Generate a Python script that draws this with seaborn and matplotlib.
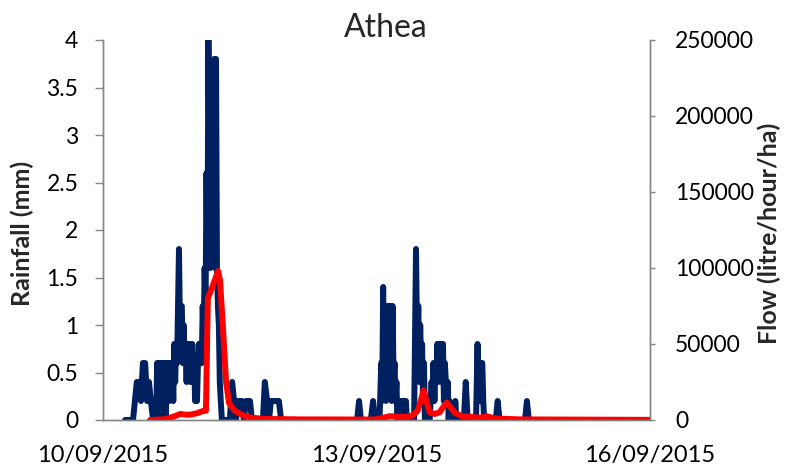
import numpy as np
import pandas as pd
import matplotlib
matplotlib.use("Agg")
import matplotlib.pyplot as plt
import seaborn as sns

# ---- data (hours since 10/09/2015 00:00) ----
rain_hours = [5.8, 7.9, 8.4, 8.9, 9.5, 10.0, 10.5, 11.1, 11.6, 12.1, 12.6, 13.2, 14.0,
              14.25, 14.5, 14.75, 15.0, 15.25, 15.5, 15.75, 16.0, 16.25, 16.5, 16.75, 17.0,
              17.25, 17.5, 17.75, 18.0, 18.25, 18.5, 18.75, 19.0, 19.25, 19.5, 19.75, 20.0,
              20.25, 20.5, 20.75, 21.0, 21.25, 21.5, 21.75, 22.0, 22.25, 22.5, 22.75, 23.0,
              23.25, 23.5, 23.75, 24.0, 24.25, 24.5, 24.75, 25.0, 25.25, 25.5, 25.75, 26.0,
              26.25, 26.5, 26.75, 27.0, 27.25, 27.5, 27.75, 28.0, 28.25, 28.5, 28.75, 29.0,
              29.25, 29.5, 29.75, 30.0, 30.25, 30.5, 30.75, 31.0, 31.3,
              33.4, 34.0, 34.5, 35.0, 35.5, 36.6, 37.1, 37.6, 38.7, 39.2, 42.1, 42.6, 43.2,
              43.7, 44.2, 46.3, 46.9,
              66.9, 67.4, 67.9, 70.5, 71.1, 71.6, 72.8, 73.25, 73.5, 73.75, 74.0, 74.25, 74.5,
              74.75, 75.0, 75.25, 75.5, 75.75, 76.0, 76.25, 76.5, 76.75, 77.0, 77.25, 77.5,
              77.75, 78.0, 78.25, 78.75, 79.0, 79.25, 79.75, 80.0, 81.9, 82.4, 82.75, 83.0,
              83.25, 83.5, 83.75, 84.0, 84.25, 84.5, 84.75, 85.0, 85.25, 86.0, 86.5, 86.75,
              87.0, 87.25, 87.5, 87.75, 88.0, 88.25, 88.5, 88.75, 89.0, 89.25, 89.5, 89.75,
              90.0, 90.25, 90.5, 90.75, 91.0, 91.25, 91.5, 92.5, 92.75, 93.0, 95.0, 95.5,
              96.0, 98.2, 98.6, 98.85, 99.1, 99.35, 99.6, 99.85, 100.1, 100.35, 103.4, 103.9,
              104.4, 111.1, 111.6, 112.1, 144.0]
rain_mm = [0, 0, 0.2, 0.4, 0.4, 0.2, 0.6, 0.6, 0.2, 0.4, 0.2, 0, 0,
           0.6, 0, 0.6, 0.2, 0.6, 0, 0.6, 0.2, 0.6, 0, 0.6, 0.4,
           0.6, 0.2, 0.6, 0.4, 0.6, 0.2, 0.8, 0.4, 0.8, 0.6, 1.2, 1.8,
           1.0, 1.2, 1.2, 0.6, 1.0, 0.6, 0.8, 0.4, 0.8, 0.6, 0.8, 0.4,
           0.6, 0.8, 0.4, 0.6, 0.2, 0.6, 0.2, 0.6, 0.8, 0.6, 0.8, 0.6,
           1.2, 0.8, 1.6, 1.2, 2.6, 1.6, 4.0, 2.6, 1.6, 3.2, 2.0, 2.6,
           3.8, 1.6, 3.8, 1.6, 1.2, 1.0, 0.4, 0.2, 0,
           0, 0.4, 0.2, 0, 0.2, 0.2, 0, 0.2, 0.2, 0, 0, 0.4, 0.2,
           0, 0.2, 0.2, 0,
           0, 0.2, 0, 0, 0.2, 0, 0, 0.6, 0.2, 1.4, 0.4, 1.0, 0.2,
           1.2, 0.4, 1.2, 0.6, 1.2, 0.2, 1.2, 0.4, 0.6, 0.2, 0.4, 0,
           0.2, 0, 0.2, 0.2, 0, 0.2, 0.2, 0, 0, 1.8, 0.6, 1.2,
           0.4, 1.0, 0.6, 0.8, 0.2, 0.6, 0, 0.2, 0, 0, 0.4, 0.2,
           0.6, 0.2, 0.6, 0.4, 0.8, 0.4, 0.8, 0.6, 0.8, 0.4, 0.8, 0.2,
           0.6, 0.4, 0.2, 0.4, 0, 0.2, 0, 0, 0.2, 0, 0, 0.4,
           0, 0, 0.8, 0.2, 0.6, 0.2, 0.6, 0.6, 0.2, 0, 0, 0.2,
           0, 0, 0.2, 0, 0]

flow_hours = [12.4, 16.3, 18.9, 20.4, 21.7, 23.0, 24.8, 26.4, 27.1, 27.6, 28.7, 30.0, 30.3,
              30.8, 31.6, 32.4, 33.2, 34.7, 36.9, 39.2, 42.6, 51.9, 71.6,
              72.9, 75.5, 79.5, 81.6, 82.8, 83.6, 84.4, 85.2, 86.0, 87.3, 88.6, 89.7, 90.5,
              91.3, 92.7, 94.5, 97.1, 99.2, 101.0, 103.1, 109.7, 131.0, 144.0]
flow_lph = [0, 500, 2500, 4000, 3500, 3500, 4500, 6000, 6000, 80000, 87000, 96000, 98000,
            92000, 60000, 25000, 11000, 6000, 3000, 1500, 700, 400, 300,
            1000, 2500, 2000, 3000, 6000, 12000, 19500, 12000, 5000, 4000, 5000, 9000, 11500,
            9000, 4500, 2500, 2000, 1500, 2500, 1000, 400, 200, 100]

x_ticks = ["10/09/2015", "13/09/2015", "16/09/2015"]
start = pd.Timestamp("2015-09-10")

rain_df = pd.DataFrame({"time": start + pd.to_timedelta(rain_hours, unit="h"), "rain": rain_mm})
flow_df = pd.DataFrame({"time": start + pd.to_timedelta(flow_hours, unit="h"), "flow": flow_lph})

sns.set_style("white")
plt.rcParams["font.family"] = ["Lato", "DejaVu Sans"]

fig = plt.figure(figsize=(7.86, 4.68), dpi=100)
ax = fig.add_axes([103 / 786, 48 / 468, 547 / 786, 380 / 468])
ax2 = ax.twinx()

sns.lineplot(data=rain_df, x="time", y="rain", ax=ax, color="#002060", linewidth=4.3,
             solid_joinstyle="round", solid_capstyle="round", estimator=None, sort=False)
sns.lineplot(data=flow_df, x="time", y="flow", ax=ax2, color="#ff0000", linewidth=4.3,
             solid_joinstyle="round", solid_capstyle="round", estimator=None, sort=False)

tick_pos = [start + pd.Timedelta(days=d) for d in (0, 3, 6)]
ax.set_xlim(tick_pos[0], tick_pos[-1])
ax.set_xticks(tick_pos)
ax.set_xticklabels(x_ticks)
ax.set_ylim(0, 4)
ax.set_yticks(np.arange(0, 4.01, 0.5))
ax.set_yticklabels(["0", "0.5", "1", "1.5", "2", "2.5", "3", "3.5", "4"])
ax2.set_ylim(0, 250000)
ax2.set_yticks(np.arange(0, 250001, 50000))
ax2.set_yticklabels([str(v) for v in range(0, 250001, 50000)])

grey = "#868686"
for a in (ax, ax2):
    a.spines["top"].set_visible(False)
    for s in ("left", "right", "bottom"):
        a.spines[s].set_color(grey)
        a.spines[s].set_linewidth(1.0)
    a.tick_params(axis="both", which="major", width=1, color=grey,
                  labelcolor="#000000", direction="out")
ax.tick_params(axis="x", length=5.8, pad=12.5, labelsize=17)
ax.tick_params(axis="y", length=5.8, pad=12, labelsize=16.5, left=True)
ax2.tick_params(axis="y", length=3.6, pad=14.5, labelsize=16.5, right=True)

ax.set_xlabel("")
ax.set_ylabel("")
ax2.set_ylabel("")
fig.text(22 / 786, 1 - 233 / 468, "Rainfall (mm)", rotation=90, ha="center", va="center",
         fontsize=18, fontweight="bold")
fig.text(769 / 786, 1 - 233 / 468, "Flow (litre/hour/ha)", rotation=90, ha="center",
         va="center", fontsize=18, fontweight="bold")
fig.text(386 / 786, 1 - 37 / 468, "Athea", ha="center", va="baseline", fontsize=23)

ax.set_zorder(1)
ax2.set_zorder(2)
ax.patch.set_visible(True)
ax2.patch.set_visible(False)

fig.savefig("out.png", dpi=100)
